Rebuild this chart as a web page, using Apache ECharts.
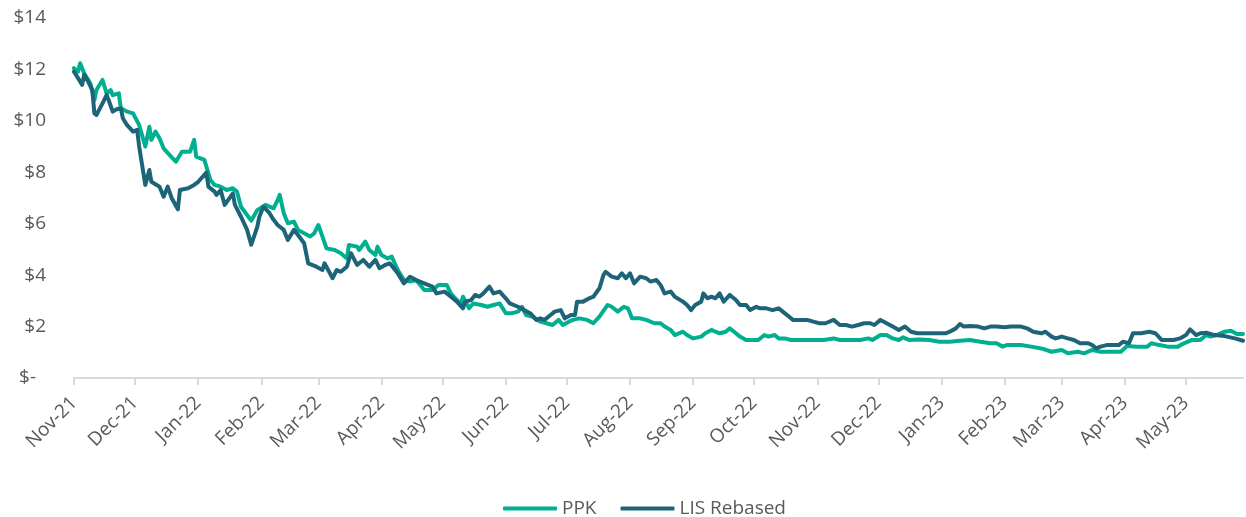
<!DOCTYPE html>
<html>
<head>
<meta charset="utf-8">
<script src="https://cdn.jsdelivr.net/npm/echarts@6/dist/echarts.min.js"></script>
<style>html,body{margin:0;padding:0;background:#fff;}#c{width:1246px;height:517px;}</style>
</head>
<body>
<div id="c"></div>
<script>
const seriesNames = ['PPK', 'LIS Rebased'];
const monthNames = ['Jan','Feb','Mar','Apr','May','Jun','Jul','Aug','Sep','Oct','Nov','Dec'];
const yTicks = [0, 2, 4, 6, 8, 10, 12, 14];

const ppkDates = [
'2021-11-01','2021-11-03','2021-11-04','2021-11-06','2021-11-09','2021-11-11','2021-11-12','2021-11-15','2021-11-17','2021-11-19','2021-11-20','2021-11-23','2021-11-24','2021-11-27','2021-11-30',
'2021-12-03','2021-12-06','2021-12-08','2021-12-09','2021-12-11','2021-12-13','2021-12-15','2021-12-18','2021-12-21','2021-12-24','2021-12-28','2021-12-30','2021-12-31',
'2022-01-04','2022-01-07','2022-01-09','2022-01-12','2022-01-15','2022-01-18','2022-01-20','2022-01-22','2022-01-27','2022-01-30',
'2022-02-03','2022-02-07','2022-02-09','2022-02-10','2022-02-12','2022-02-14','2022-02-17','2022-02-19','2022-02-22','2022-02-25','2022-02-27',
'2022-03-01','2022-03-03','2022-03-05','2022-03-09','2022-03-12','2022-03-15','2022-03-16','2022-03-20','2022-03-21','2022-03-24','2022-03-26','2022-03-29','2022-03-30',
'2022-04-01','2022-04-04','2022-04-06','2022-04-09','2022-04-12','2022-04-15','2022-04-18','2022-04-22','2022-04-26','2022-04-29',
'2022-05-03','2022-05-05','2022-05-08','2022-05-10','2022-05-11','2022-05-14','2022-05-16','2022-05-20','2022-05-23','2022-05-26','2022-05-29',
'2022-06-01','2022-06-04','2022-06-07','2022-06-09','2022-06-11','2022-06-14','2022-06-18','2022-06-21','2022-06-24','2022-06-27','2022-06-29',
'2022-07-02','2022-07-04','2022-07-07','2022-07-11','2022-07-14','2022-07-17','2022-07-21','2022-07-23','2022-07-26','2022-07-29','2022-07-31',
'2022-08-02','2022-08-06','2022-08-09','2022-08-13','2022-08-16','2022-08-18','2022-08-21','2022-08-23','2022-08-27','2022-08-29',
'2022-09-01','2022-09-05','2022-09-07','2022-09-10','2022-09-12','2022-09-14','2022-09-17','2022-09-19','2022-09-22','2022-09-24','2022-09-27',
'2022-10-01','2022-10-03','2022-10-06','2022-10-08','2022-10-11','2022-10-13','2022-10-16','2022-10-19','2022-10-27',
'2022-11-04','2022-11-09','2022-11-12','2022-11-22','2022-11-26','2022-11-28',
'2022-12-02','2022-12-05','2022-12-08','2022-12-11','2022-12-13','2022-12-16','2022-12-21','2022-12-26','2022-12-31',
'2023-01-05','2023-01-10','2023-01-15','2023-01-20','2023-01-25','2023-01-28','2023-01-31',
'2023-02-02','2023-02-09','2023-02-14','2023-02-19','2023-02-24',
'2023-03-01','2023-03-04','2023-03-09','2023-03-12','2023-03-16','2023-03-20','2023-03-25','2023-03-30',
'2023-04-02','2023-04-07','2023-04-12','2023-04-14','2023-04-18','2023-04-22','2023-04-27','2023-04-30',
'2023-05-04','2023-05-08','2023-05-11','2023-05-13','2023-05-16','2023-05-20','2023-05-23','2023-05-26','2023-05-29'
];
const ppkValues = [
12.05,11.91,12.24,11.85,11.46,10.81,11.20,11.59,11.07,11.20,11.00,11.07,10.49,10.36,10.29,
9.84,9.00,9.77,9.26,9.58,9.32,8.93,8.67,8.41,8.80,8.80,9.26,8.61,
8.48,7.70,7.51,7.44,7.31,7.38,7.25,6.66,6.12,6.53,
6.73,6.60,6.92,7.12,6.41,6.02,6.08,5.76,5.63,5.50,5.63,
5.95,5.50,5.04,4.98,4.85,4.65,5.17,5.11,4.98,5.30,4.98,4.78,5.11,
4.78,4.65,4.72,4.20,3.81,3.75,3.81,3.42,3.42,3.62,
3.62,3.29,3.03,2.90,3.16,2.71,2.90,2.84,2.77,2.84,2.90,
2.52,2.52,2.58,2.77,2.45,2.39,2.19,2.13,2.06,2.26,2.06,
2.19,2.26,2.32,2.26,2.13,2.39,2.84,2.77,2.58,2.77,2.71,
2.32,2.32,2.26,2.13,2.13,2.00,1.87,1.67,1.80,1.67,
1.54,1.61,1.74,1.87,1.80,1.74,1.80,1.93,1.74,1.61,1.48,
1.48,1.48,1.67,1.61,1.67,1.54,1.54,1.48,1.48,
1.48,1.54,1.48,1.48,1.54,1.48,
1.67,1.67,1.54,1.48,1.58,1.48,1.50,1.48,1.41,
1.41,1.45,1.48,1.41,1.35,1.35,1.22,
1.28,1.28,1.22,1.15,1.02,
1.09,0.96,1.02,0.96,1.09,1.02,1.02,1.02,
1.24,1.22,1.22,1.35,1.28,1.22,1.22,1.35,
1.48,1.48,1.67,1.61,1.67,1.80,1.84,1.71,1.71
];

const lisDates = [
'2021-11-01','2021-11-03','2021-11-05','2021-11-06','2021-11-08','2021-11-10','2021-11-11','2021-11-12','2021-11-15','2021-11-17','2021-11-18','2021-11-20','2021-11-22','2021-11-24','2021-11-25','2021-11-27','2021-11-30',
'2021-12-02','2021-12-03','2021-12-06','2021-12-08','2021-12-09','2021-12-13','2021-12-15','2021-12-17','2021-12-19','2021-12-22','2021-12-23','2021-12-27','2021-12-30',
'2022-01-01','2022-01-05','2022-01-06','2022-01-09','2022-01-10','2022-01-12','2022-01-14','2022-01-18','2022-01-19','2022-01-22','2022-01-25','2022-01-27','2022-01-30','2022-01-31',
'2022-02-02','2022-02-05','2022-02-07','2022-02-09','2022-02-12','2022-02-14','2022-02-17','2022-02-19','2022-02-22','2022-02-24','2022-02-28',
'2022-03-03','2022-03-04','2022-03-08','2022-03-10','2022-03-12','2022-03-15','2022-03-17','2022-03-20','2022-03-23','2022-03-26','2022-03-29','2022-03-31',
'2022-04-03','2022-04-05','2022-04-09','2022-04-12','2022-04-15','2022-04-18','2022-04-22','2022-04-26','2022-04-28',
'2022-05-02','2022-05-06','2022-05-08','2022-05-11','2022-05-12','2022-05-15','2022-05-17','2022-05-19','2022-05-21','2022-05-24','2022-05-26','2022-05-29',
'2022-06-01','2022-06-03','2022-06-07','2022-06-10','2022-06-13','2022-06-16','2022-06-18','2022-06-20','2022-06-23','2022-06-25','2022-06-28','2022-06-30',
'2022-07-03','2022-07-05','2022-07-06','2022-07-09','2022-07-12','2022-07-14','2022-07-17','2022-07-19','2022-07-20','2022-07-23','2022-07-26','2022-07-28','2022-07-30',
'2022-08-01','2022-08-03','2022-08-06','2022-08-09','2022-08-11','2022-08-14','2022-08-16','2022-08-18','2022-08-21','2022-08-23','2022-08-27','2022-08-29','2022-08-31',
'2022-09-02','2022-09-05','2022-09-06','2022-09-08','2022-09-10','2022-09-12','2022-09-14','2022-09-16','2022-09-19','2022-09-22','2022-09-24','2022-09-27','2022-09-29',
'2022-10-02','2022-10-04','2022-10-07','2022-10-10','2022-10-13','2022-10-15','2022-10-18','2022-10-20','2022-10-24','2022-10-27','2022-10-30',
'2022-11-02','2022-11-05','2022-11-09','2022-11-12','2022-11-15','2022-11-18','2022-11-21','2022-11-24','2022-11-27','2022-11-29',
'2022-12-02','2022-12-05','2022-12-08','2022-12-11','2022-12-14','2022-12-17','2022-12-20','2022-12-23','2022-12-27','2022-12-30',
'2023-01-03','2023-01-05','2023-01-08','2023-01-10','2023-01-12','2023-01-15','2023-01-19','2023-01-22','2023-01-25','2023-01-28',
'2023-02-01','2023-02-04','2023-02-09','2023-02-12','2023-02-15','2023-02-19','2023-02-21','2023-02-24','2023-02-26',
'2023-03-01','2023-03-04','2023-03-07','2023-03-10','2023-03-14','2023-03-16','2023-03-18','2023-03-20','2023-03-23','2023-03-26','2023-03-29','2023-03-31',
'2023-04-03','2023-04-05','2023-04-09','2023-04-13','2023-04-16','2023-04-19','2023-04-22','2023-04-25','2023-04-28',
'2023-05-01','2023-05-03','2023-05-06','2023-05-08','2023-05-11','2023-05-15','2023-05-20','2023-05-25','2023-05-29'
];
const lisValues = [
11.91,11.66,11.40,11.79,11.52,11.20,10.29,10.23,10.68,11.00,10.81,10.36,10.45,10.49,10.10,9.84,9.58,
9.65,9.00,7.51,8.09,7.63,7.44,7.05,7.44,6.99,6.56,7.31,7.38,7.51,
7.63,7.99,7.44,7.25,7.12,7.31,6.73,7.18,6.73,6.27,5.76,5.18,5.88,6.27,
6.66,6.41,6.15,5.95,5.76,5.37,5.76,5.56,5.24,4.46,4.33,
4.20,4.46,3.88,4.20,4.13,4.33,4.85,4.40,4.59,4.33,4.59,4.27,
4.40,4.46,4.07,3.68,3.94,3.81,3.68,3.55,3.29,
3.36,3.10,2.97,2.71,2.97,3.03,3.23,3.16,3.29,3.55,3.29,3.36,
3.10,2.90,2.77,2.64,2.52,2.26,2.32,2.26,2.45,2.58,2.64,2.32,
2.45,2.45,2.97,2.97,3.10,3.16,3.49,4.01,4.13,3.94,3.88,4.07,3.88,
4.07,3.68,3.94,3.88,3.75,3.81,3.62,3.29,3.36,3.16,2.97,2.84,2.64,
2.84,2.97,3.29,3.10,3.16,3.10,3.29,2.97,3.23,3.03,2.84,2.84,2.64,
2.77,2.71,2.71,2.64,2.71,2.58,2.39,2.26,2.26,2.26,2.19,
2.13,2.13,2.26,2.06,2.06,2.00,2.06,2.13,2.13,2.06,
2.26,2.13,2.00,1.87,2.00,1.80,1.74,1.74,1.74,1.74,
1.74,1.80,1.93,2.10,2.00,2.02,2.00,1.93,2.00,2.00,
1.97,2.00,2.00,1.93,1.80,1.74,1.80,1.61,1.54,
1.61,1.54,1.48,1.35,1.35,1.28,1.15,1.22,1.28,1.28,1.28,1.41,
1.35,1.74,1.74,1.80,1.74,1.48,1.48,1.48,1.54,
1.67,1.89,1.67,1.74,1.76,1.67,1.63,1.54,1.45
];

const xStart = '2021-11-01';
const xEnd = '2023-05-29';

function zip(d, v) { return d.map((x, i) => [x, v[i]]); }

const FONT = '"Open Sans", sans-serif';
const TXT = '#595959';
const chart = echarts.init(document.getElementById('c'), null, {renderer: 'canvas'});
chart.setOption({
  animation: false,
  backgroundColor: '#ffffff',
  grid: {left: 74, right: 3, top: 18, bottom: 139, containLabel: false},
  legend: {
    data: seriesNames,
    left: 498, top: 494,
    icon: 'roundRect',
    itemWidth: 54, itemHeight: 4, itemGap: 24,
    textStyle: {color: TXT, fontFamily: FONT, fontSize: 19}
  },
  xAxis: {
    type: 'time',
    min: xStart, max: xEnd,
    minInterval: 28 * 86400000, maxInterval: 31 * 86400000,
    splitLine: {show: false},
    axisLine: {show: true, lineStyle: {color: '#D9D9D9', width: 2}},
    axisTick: {show: true, length: 7, lineStyle: {color: '#D9D9D9', width: 2}},
    axisLabel: {
      rotate: 45, margin: 22, color: TXT, fontFamily: FONT, fontSize: 19,
      showMaxLabel: false, hideOverlap: false,
      formatter: function (val) {
        const d = new Date(val);
        return monthNames[d.getMonth()] + '-' + String(d.getFullYear()).slice(2);
      }
    }
  },
  yAxis: {
    type: 'value', min: yTicks[0], max: yTicks[yTicks.length - 1], interval: 2,
    splitLine: {show: false},
    axisLine: {show: false}, axisTick: {show: false},
    axisLabel: {
      margin: 28, color: TXT, fontFamily: FONT, fontSize: 19,
      formatter: function (v) { return v === 0 ? '{z|$-}' : '$' + v; },
      rich: {z: {color: TXT, fontFamily: FONT, fontSize: 19, padding: [0, 10, 0, 0]}}
    }
  },
  series: [
    {name: seriesNames[0], type: 'line', symbol: 'none', data: zip(ppkDates, ppkValues),
     lineStyle: {color: '#00AF8F', width: 4, cap: 'round', join: 'round'}, itemStyle: {color: '#00AF8F'}},
    {name: seriesNames[1], type: 'line', symbol: 'none', data: zip(lisDates, lisValues),
     lineStyle: {color: '#1E6478', width: 4, cap: 'round', join: 'round'}, itemStyle: {color: '#1E6478'}}
  ]
});
</script>
</body>
</html>
